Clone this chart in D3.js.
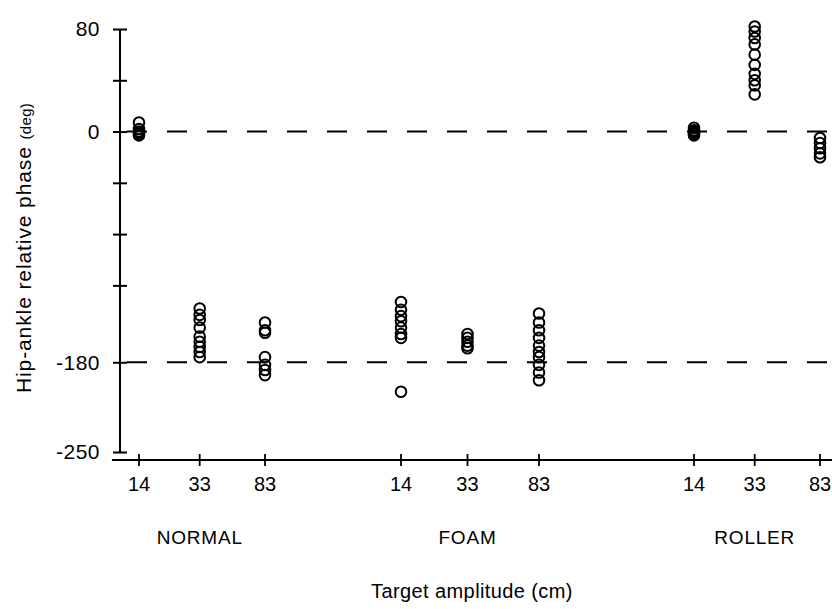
<!DOCTYPE html>
<html>
<head>
<meta charset="utf-8">
<script src="https://cdn.jsdelivr.net/npm/d3@7"></script>
<style>
  body { margin: 0; background: #fff; }
  svg text { font-family: "Liberation Sans", Arial, sans-serif; fill: #000; }
</style>
</head>
<body>
<svg id="chart" width="832" height="609"></svg>
<script>
const conditions = ["NORMAL", "FOAM", "ROLLER"];
const amplitudes = [14, 33, 83];
const yTicks = [80, 40, 0, -40, -80, -120, -180, -250];
const yLabels = [80, 0, -180, -250];
const refLines = [0, -180];

// phase (deg) per trial, one array per target amplitude
const normalPhase = [
  [7, 2, 0, -1, -2, -3],
  [-138, -143, -147, -153, -160, -164, -168, -172, -176],
  [-149, -155, -157, -176, -182, -186, -190]
];
const foamPhase = [
  [-133, -139, -144, -148, -153, -158, -161, -203],
  [-158, -161, -164, -167, -169],
  [-142, -149, -155, -161, -167, -172, -176, -182, -188, -194]
];
const rollerPhase = [
  [3, 1, 0, -1, -2, -3],
  [82, 78, 73, 68, 60, 52, 45, 40, 36, 29],
  [-5, -9, -13, -17, -20]
];

const phases = { NORMAL: normalPhase, FOAM: foamPhase, ROLLER: rollerPhase };

const points = [];
conditions.forEach((c) => {
  phases[c].forEach((vals, i) => {
    vals.forEach((v) => points.push({ cond: c, amp: amplitudes[i], phase: v }));
  });
});

const svg = d3.select("#chart");

const y = d3.scaleLinear().domain([-250, 80]).range([452, 29]);
// each condition block: where it starts and how wide it is
const groupStart = d3.scaleOrdinal().domain(conditions).range([139, 401, 694]);
const groupSpan = d3.scaleOrdinal().domain(conditions).range([126, 138, 126]);
const ampX = d3.scaleLog().domain([14, 83]).range([0, 1]);
const xPos = (c, a) => groupStart(c) + groupSpan(c) * ampX(a);

const AXIS_X = 120;
const AXIS_Y = 460;

// reference lines
svg.selectAll(".ref")
  .data(refLines)
  .enter()
  .append("line")
  .attr("class", "ref")
  .attr("x1", AXIS_X + 7)
  .attr("x2", 832)
  .attr("y1", (d) => y(d))
  .attr("y2", (d) => y(d))
  .attr("stroke", "#000")
  .attr("stroke-width", 2)
  .attr("stroke-dasharray", "20,20");

// y axis
const yAxis = d3.axisLeft(y)
  .tickValues(yTicks)
  .tickSize(7)
  .tickFormat((d) => (yLabels.includes(d) ? d : ""));

const gy = svg.append("g")
  .attr("transform", `translate(${AXIS_X},0)`)
  .call(yAxis);
gy.select(".domain").attr("stroke-width", 2).attr("d", `M0,${y(80)}V${y(-250)}`);
gy.selectAll(".tick line").attr("x1", 7).attr("x2", -7).attr("stroke-width", 2);
gy.selectAll(".tick text")
  .attr("x", -20)
  .style("font-size", "21px")
  .style("letter-spacing", "0.5px")
  .style("font-family", "'Liberation Sans', Arial, sans-serif");

// x axis
const xTicks = [];
conditions.forEach((c) => amplitudes.forEach((a) => xTicks.push({ cond: c, amp: a })));

svg.append("line")
  .attr("x1", 112)
  .attr("x2", 832)
  .attr("y1", AXIS_Y)
  .attr("y2", AXIS_Y)
  .attr("stroke", "#000")
  .attr("stroke-width", 2);

const gx = svg.append("g");
gx.selectAll("line")
  .data(xTicks)
  .enter()
  .append("line")
  .attr("x1", (d) => xPos(d.cond, d.amp))
  .attr("x2", (d) => xPos(d.cond, d.amp))
  .attr("y1", AXIS_Y - 6)
  .attr("y2", AXIS_Y + 6)
  .attr("stroke", "#000")
  .attr("stroke-width", 1.8);

gx.selectAll("text")
  .data(xTicks)
  .enter()
  .append("text")
  .attr("x", (d) => xPos(d.cond, d.amp))
  .attr("y", 491)
  .attr("text-anchor", "middle")
  .style("font-size", "20px")
  .text((d) => d.amp);

// condition labels
svg.selectAll(".cond")
  .data(conditions)
  .enter()
  .append("text")
  .attr("class", "cond")
  .attr("x", (d) => xPos(d, 33))
  .attr("y", 544)
  .attr("text-anchor", "middle")
  .style("font-size", "19px")
  .style("letter-spacing", "0.8px")
  .text((d) => d);

// axis titles
svg.append("text")
  .attr("x", 472)
  .attr("y", 598)
  .attr("text-anchor", "middle")
  .style("font-size", "20px")
  .style("letter-spacing", "0.4px")
  .text("Target amplitude (cm)");

const yTitle = svg.append("text")
  .attr("transform", "translate(31,248) rotate(-90)")
  .attr("text-anchor", "middle")
  .style("font-size", "21px")
  .style("letter-spacing", "0.9px");
yTitle.append("tspan").text("Hip-ankle relative phase ");
yTitle.append("tspan").style("font-size", "15px").style("letter-spacing", "0.3px").text("(deg)");

// points
svg.selectAll(".pt")
  .data(points)
  .enter()
  .append("circle")
  .attr("class", "pt")
  .attr("cx", (d) => xPos(d.cond, d.amp))
  .attr("cy", (d) => y(d.phase))
  .attr("r", 5.3)
  .attr("fill", "none")
  .attr("stroke", "#000")
  .attr("stroke-width", 2);
</script>
</body>
</html>
